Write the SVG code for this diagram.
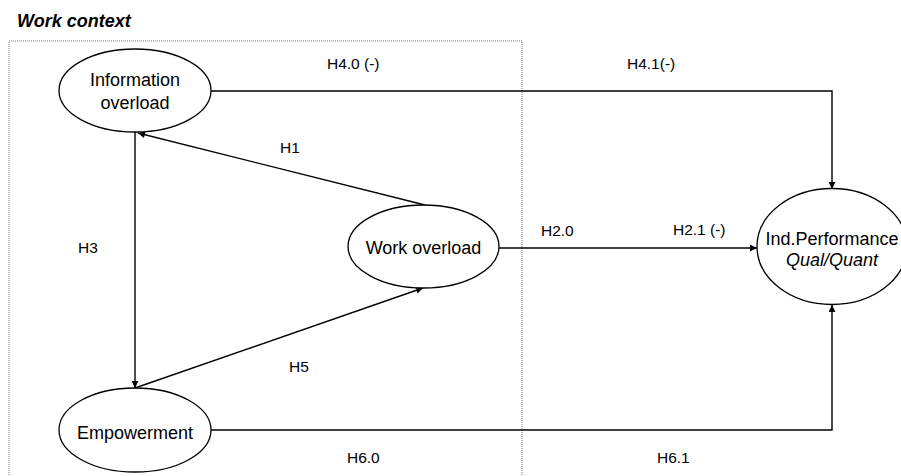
<svg xmlns="http://www.w3.org/2000/svg" width="901" height="476" viewBox="0 0 901 476">
<style>
.node ellipse{fill:#fff;stroke:#000;stroke-width:1.3}
.nt{font-family:"Liberation Sans",Arial,sans-serif;font-size:18px;fill:#000;text-anchor:middle}
.lb{font-family:"Liberation Sans",Arial,sans-serif;font-size:15.5px;fill:#000}
.edge{fill:none;stroke:#000;stroke-width:1.4;marker-end:url(#arr)}
</style>
<defs>
<marker id="arr" viewBox="0 0 10 10" refX="10" refY="5" markerWidth="8" markerHeight="7" markerUnits="userSpaceOnUse" orient="auto">
<path d="M0,0 L10,5 L0,10 z" fill="#000"/>
</marker>
</defs>
<rect width="901" height="476" fill="#fff"/>
<text x="17" y="27" font-family="Liberation Sans,Arial,sans-serif" font-size="18" font-weight="bold" font-style="italic">Work context</text>
<rect x="9" y="41" width="513" height="450" fill="none" stroke="#777" stroke-width="1" stroke-dasharray="1,1"/>
<g id="connectors">
<path class="edge" d="M211,91 H832 V189"/>
<path class="edge" d="M211,430 H832 V305"/>
<path class="edge" d="M499,248 H757"/>
<path class="edge" d="M135,132 V388"/>
<path class="edge" d="M425,205 L138,133"/>
<path class="edge" d="M135,388 L423,288"/>
</g>
<g id="labels">
<text class="lb" x="327" y="69">H4.0 (-)</text>
<text class="lb" x="627" y="69">H4.1(-)</text>
<text class="lb" x="280" y="153">H1</text>
<text class="lb" x="78" y="253">H3</text>
<text class="lb" x="541" y="236">H2.0</text>
<text class="lb" x="673" y="235">H2.1 (-)</text>
<text class="lb" x="289" y="372">H5</text>
<text class="lb" x="347" y="463">H6.0</text>
<text class="lb" x="657" y="463">H6.1</text>
</g>
<g id="info-overload" class="node">
<ellipse cx="135" cy="90.5" rx="76" ry="41.5"/>
<text class="nt" x="135" y="86">Information</text>
<text class="nt" x="135" y="109">overload</text>
</g>
<g id="work-overload" class="node">
<ellipse cx="423.5" cy="246.5" rx="75.5" ry="41.5"/>
<text class="nt" x="423.5" y="254">Work overload</text>
</g>
<g id="empowerment" class="node">
<ellipse cx="135" cy="430" rx="76" ry="42"/>
<text class="nt" x="135" y="439">Empowerment</text>
</g>
<g id="ind-performance" class="node">
<ellipse cx="832" cy="246.5" rx="75" ry="58"/>
<text class="nt" x="832" y="245">Ind.Performance</text>
<text class="nt" x="832" y="266" font-style="italic">Qual/Quant</text>
</g>
</svg>
